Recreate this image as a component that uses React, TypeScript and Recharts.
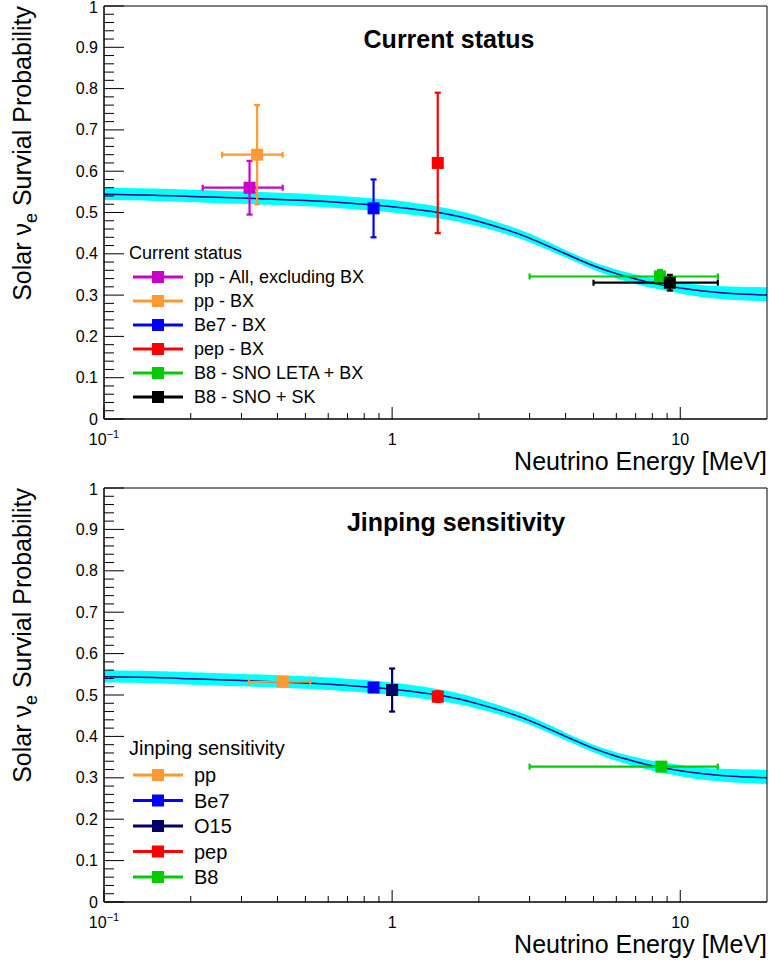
import { ComposedChart, XAxis, YAxis, Area, Line, Scatter, ErrorBar, Legend, ReferenceArea } from 'recharts';

// MSW-LMA survival probability curve with its uncertainty band
const energy = [0.1, 0.15, 0.2, 0.3, 0.5, 0.7, 1, 1.5, 2, 2.5, 3, 4, 5, 6, 7, 8, 10, 12, 15, 20];
const survival = [0.544, 0.542, 0.539, 0.535, 0.529, 0.523, 0.514, 0.498, 0.478, 0.458, 0.438, 0.400, 0.371, 0.352, 0.339, 0.329, 0.317, 0.310, 0.304, 0.300];
const bandLow = [0.530, 0.528, 0.525, 0.521, 0.515, 0.509, 0.500, 0.484, 0.466, 0.447, 0.428, 0.391, 0.362, 0.341, 0.327, 0.317, 0.304, 0.295, 0.289, 0.285];
const bandHigh = [0.560, 0.558, 0.555, 0.551, 0.545, 0.539, 0.530, 0.512, 0.491, 0.469, 0.449, 0.409, 0.380, 0.362, 0.350, 0.341, 0.331, 0.324, 0.321, 0.319];

// current measurements
const currentNames = ['pp - All, excluding BX', 'pp - BX', 'Be7 - BX', 'pep - BX', 'B8 - SNO LETA + BX', 'B8 - SNO + SK'];
const currentColors = ['#cc00cc', '#ff9933', '#0000ff', '#ff0000', '#00cc00', '#000000'];
const currentE = [0.32, 0.34, 0.862, 1.44, 8.5, 9.2];
const currentELow = [0.22, 0.257, 0.862, 1.44, 3.0, 5.0];
const currentEHigh = [0.417, 0.417, 0.862, 1.44, 13.5, 13.5];
const currentP = [0.56, 0.64, 0.51, 0.62, 0.345, 0.33];
const currentPLow = [0.495, 0.52, 0.44, 0.45, 0.329, 0.311];
const currentPHigh = [0.625, 0.76, 0.58, 0.79, 0.361, 0.349];

// Jinping expected sensitivity
const jinpingNames = ['pp', 'Be7', 'O15', 'pep', 'B8'];
const jinpingColors = ['#ff9933', '#0000ff', '#000066', '#ff0000', '#00cc00'];
const jinpingE = [0.417, 0.862, 1.0, 1.44, 8.6];
const jinpingELow = [0.318, 0.862, 1.0, 1.44, 3.0];
const jinpingEHigh = [0.52, 0.862, 1.0, 1.44, 13.5];
const jinpingP = [0.532, 0.518, 0.512, 0.496, 0.327];
const jinpingPLow = [0.528, 0.518, 0.46, 0.483, 0.327];
const jinpingPHigh = [0.536, 0.518, 0.564, 0.509, 0.327];

const xTicks = [0.1, 0.2, 0.3, 0.4, 0.5, 0.6, 0.7, 0.8, 0.9, 1, 2, 3, 4, 5, 6, 7, 8, 9, 10];
const yTicks = Array.from({ length: 51 }, (_, i) => Math.round(i * 2) / 100);

const FONT = '"Liberation Sans", Arial, Helvetica, sans-serif';

const curve = energy.map((e, i) => ({ x: e, y: survival[i], band: [bandLow[i], bandHigh[i]] }));

const makePoints = (E, EL, EH, P, PL, PH) =>
  E.map((e, i) => [{ x: e, y: P[i], ex: [e - EL[i], EH[i] - e], ey: [P[i] - PL[i], PH[i] - P[i]] }]);

const currentPoints = makePoints(currentE, currentELow, currentEHigh, currentP, currentPLow, currentPHigh);
const jinpingPoints = makePoints(jinpingE, jinpingELow, jinpingEHigh, jinpingP, jinpingPLow, jinpingPHigh);

const XTick = (props) => {
  const { x, y, payload } = props;
  const v = payload.value;
  const major = v === 0.1 || v === 1 || v === 10;
  return (
    <g>
      <line x1={x} x2={x} y1={y} y2={y - (major ? 12 : 6)} stroke="#000" strokeWidth={1} />
      {v === 0.1 && (
        <text x={x} y={y + 26} textAnchor="middle" fontSize={16} fontFamily={FONT} fill="#000">
          10<tspan dy={-7} fontSize={11}>−1</tspan>
        </text>
      )}
      {(v === 1 || v === 10) && (
        <text x={x} y={y + 26} textAnchor="middle" fontSize={16} fontFamily={FONT} fill="#000">
          {v}
        </text>
      )}
    </g>
  );
};

const YTick = (props) => {
  const { x, y, payload } = props;
  const v = payload.value;
  const major = Math.round(v * 50) % 5 === 0;
  return (
    <g>
      <line x1={x} x2={x + (major ? 20 : 10)} y1={y} y2={y} stroke="#000" strokeWidth={1} />
      {major && (
        <text x={x - 6} y={v === 1 ? y + 1 : y} textAnchor="end" dominantBaseline="central" fontSize={16} fontFamily={FONT} fill="#000">
          {Math.round(v * 10) / 10}
        </text>
      )}
    </g>
  );
};

const square = (color) => (props) => (
  <rect x={props.cx - 6} y={props.cy - 6} width={12} height={12} fill={color} />
);

const makeLegend = (header, names, colors, fontSize, firstGap, step) => () => (
  <svg width={290} height={12 + firstGap + step * names.length} style={{ display: 'block', overflow: 'visible' }}>
    <text x={4} y={12} dominantBaseline="central" fontSize={fontSize} fontFamily={FONT} fill="#000">
      {header}
    </text>
    {names.map((n, i) => {
      const cy = 12 + firstGap + step * i;
      return (
        <g key={n}>
          <line x1={8} x2={58} y1={cy} y2={cy} stroke={colors[i]} strokeWidth={3} />
          <rect x={27} y={cy - 6} width={12} height={12} fill={colors[i]} />
          <text x={69} y={cy} dominantBaseline="central" fontSize={fontSize} fontFamily={FONT} fill="#000">
            {n}
          </text>
        </g>
      );
    })}
  </svg>
);

const Panel = ({ top, height, marginTop, axisHeight, title, titleX, titleY, points, names, colors, legendTop, legendFont, firstGap, step }) => {
  const plotTop = marginTop;
  const plotBottom = height - axisHeight;
  return (
    <div style={{ position: 'absolute', left: 0, top }}>
      <ComposedChart width={769} height={height} data={curve} margin={{ top: marginTop, right: 2, bottom: 0, left: 0 }}>
        <XAxis
          dataKey="x"
          type="number"
          scale="log"
          domain={[0.1, 20]}
          allowDataOverflow
          ticks={xTicks}
          interval={0}
          height={axisHeight}
          tickSize={0}
          tickMargin={0}
          tickLine={false}
          tick={XTick}
          axisLine={{ stroke: '#000' }}
        />
        <YAxis
          type="number"
          domain={[0, 1]}
          allowDataOverflow
          ticks={yTicks}
          interval={0}
          width={104}
          tickSize={0}
          tickMargin={0}
          tickLine={false}
          tick={YTick}
          axisLine={{ stroke: '#000' }}
        />
        <Area type="natural" dataKey="band" fill="#00ffff" fillOpacity={1} stroke="none" isAnimationActive={false} />
        <Line type="natural" dataKey="y" stroke="#000080" strokeWidth={1.5} dot={false} isAnimationActive={false} />
        {points.map((pt, i) => (
          <Scatter key={names[i]} data={pt} dataKey="y" fill={colors[i]} shape={square(colors[i])} isAnimationActive={false}>
            <ErrorBar dataKey="ex" direction="x" width={3} stroke={colors[i]} strokeWidth={2.2} isAnimationActive={false} />
            <ErrorBar dataKey="ey" direction="y" width={3} stroke={colors[i]} strokeWidth={2.2} isAnimationActive={false} />
          </Scatter>
        ))}
        <ReferenceArea x1={0.1} x2={20} y1={0} y2={1} fill="none" stroke="#000" strokeWidth={1} />
        <Legend
          layout="vertical"
          align="center"
          verticalAlign="middle"
          width={290}
          content={makeLegend(title, names, colors, legendFont, firstGap, step)}
          wrapperStyle={{ left: 125, top: legendTop, width: 290 }}
        />
        <text x={titleX} y={titleY} textAnchor="middle" fontSize={25} fontWeight="bold" fontFamily={FONT} fill="#000">
          {title}
        </text>
        <text x={767} y={plotBottom + 51} textAnchor="end" fontSize={25} fontFamily={FONT} fill="#000">
          Neutrino Energy [MeV]
        </text>
        <text x={31} y={plotTop} textAnchor="end" fontSize={25} fontFamily={FONT} fill="#000" transform={`rotate(-90, 31, ${plotTop})`}>
          Solar  ν<tspan dy={6} fontSize={18}>e</tspan>
          <tspan dy={-6}> Survial Probability</tspan>
        </text>
      </ComposedChart>
    </div>
  );
}

export default function App() {
  return (
    <div style={{ position: 'absolute', left: 0, top: 0, width: 769, height: 965, background: '#fff' }}>
      <Panel
        top={0}
        height={480}
        marginTop={6}
        axisHeight={61}
        title="Current status"
        titleX={449}
        titleY={48}
        points={currentPoints}
        names={currentNames}
        colors={currentColors}
        legendTop={241}
        legendFont={18}
        firstGap={24}
        step={24}
      />
      <Panel
        top={470}
        height={495}
        marginTop={18}
        axisHeight={63}
        title="Jinping sensitivity"
        titleX={456}
        titleY={61}
        points={jinpingPoints}
        names={jinpingNames}
        colors={jinpingColors}
        legendTop={266}
        legendFont={20}
        firstGap={27}
        step={25.5}
      />
    </div>
  );
}
